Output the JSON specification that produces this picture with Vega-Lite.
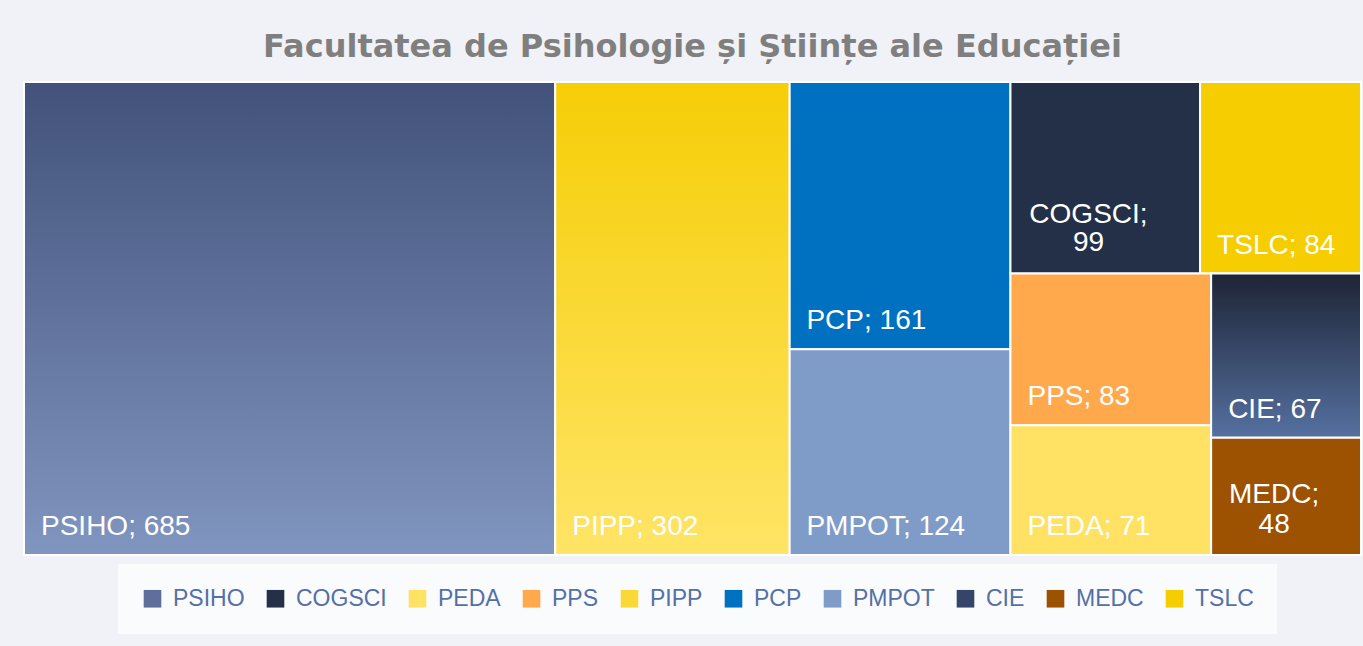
{
  "$schema": "https://vega.github.io/schema/vega-lite/v6.json",
  "width": 1337,
  "height": 473,
  "autosize": "none",
  "padding": {"left": 24, "top": 82, "right": 2, "bottom": 91},
  "background": "#f0f2f7",
  "config": {"view": {"stroke": null}},
  "title": {
    "text": "Facultatea de Psihologie și Științe ale Educației",
    "font": "DejaVu Sans",
    "fontSize": 32,
    "fontWeight": "bold",
    "color": "#7f7f7f",
    "anchor": "middle",
    "offset": 17
  },
  "data": {
    "values": [
      {"name": "PSIHO", "value": 685, "col": 1, "band": 1, "sub": 1, "i": 1},
      {"name": "PIPP", "value": 302, "col": 2, "band": 1, "sub": 1, "i": 2},
      {"name": "PCP", "value": 161, "col": 3, "band": 1, "sub": 1, "i": 3},
      {"name": "PMPOT", "value": 124, "col": 3, "band": 1, "sub": 1, "i": 4},
      {"name": "COGSCI", "value": 99, "col": 4, "band": 1, "sub": 1, "i": 5},
      {"name": "TSLC", "value": 84, "col": 4, "band": 1, "sub": 2, "i": 6},
      {"name": "PPS", "value": 83, "col": 4, "band": 2, "sub": 1, "i": 7},
      {"name": "PEDA", "value": 71, "col": 4, "band": 2, "sub": 1, "i": 8},
      {"name": "CIE", "value": 67, "col": 4, "band": 2, "sub": 2, "i": 9},
      {"name": "MEDC", "value": 48, "col": 4, "band": 2, "sub": 2, "i": 10}
    ]
  },
  "transform": [
    {"stack": "value", "groupby": [], "sort": [{"field": "i", "order": "ascending"}], "as": ["a0", "a1"]},
    {"joinaggregate": [
      {"op": "min", "field": "a0", "as": "cx0"},
      {"op": "max", "field": "a1", "as": "cx1"},
      {"op": "sum", "field": "value", "as": "colTot"}
    ], "groupby": ["col"]},
    {"stack": "value", "groupby": ["col"], "sort": [{"field": "i", "order": "ascending"}], "as": ["b0", "b1"]},
    {"joinaggregate": [
      {"op": "min", "field": "b0", "as": "bb0"},
      {"op": "max", "field": "b1", "as": "bb1"}
    ], "groupby": ["col", "band"]},
    {"stack": "value", "groupby": ["col", "band"], "sort": [{"field": "i", "order": "ascending"}], "as": ["s0", "s1"]},
    {"joinaggregate": [
      {"op": "min", "field": "s0", "as": "ss0"},
      {"op": "max", "field": "s1", "as": "ss1"}
    ], "groupby": ["col", "band", "sub"]},
    {"stack": "value", "groupby": ["col", "band", "sub"], "sort": [{"field": "i", "order": "ascending"}], "as": ["t0", "t1"]},
    {"calculate": "datum.bb0 / datum.colTot", "as": "by0"},
    {"calculate": "datum.bb1 / datum.colTot", "as": "by1"},
    {"calculate": "datum.cx0 + (datum.cx1 - datum.cx0) * datum.ss0 / (datum.bb1 - datum.bb0)", "as": "x0"},
    {"calculate": "datum.cx0 + (datum.cx1 - datum.cx0) * datum.ss1 / (datum.bb1 - datum.bb0)", "as": "x1"},
    {"calculate": "datum.by0 + (datum.by1 - datum.by0) * datum.t0 / (datum.ss1 - datum.ss0)", "as": "y0"},
    {"calculate": "datum.by0 + (datum.by1 - datum.by0) * datum.t1 / (datum.ss1 - datum.ss0)", "as": "y1"},
    {"calculate": "datum.name + '; ' + datum.value", "as": "lab"},
    {"calculate": "[datum.name + ';', '' + datum.value]", "as": "lab2"}
  ],
  "encoding": {
    "x": {"field": "x0", "type": "quantitative", "scale": {"domain": [0, 1724], "nice": false, "zero": false}, "axis": null},
    "y": {"field": "y0", "type": "quantitative", "scale": {"domain": [0, 1], "nice": false, "reverse": true}, "axis": null}
  },
  "layer": [
    {
      "mark": {"type": "rect", "stroke": "white", "strokeWidth": 2},
      "encoding": {
        "x2": {"field": "x1"},
        "y2": {"field": "y1"},
        "fill": {
          "field": "name",
          "type": "nominal",
          "scale": {
            "domain": ["PSIHO", "COGSCI", "PEDA", "PPS", "PIPP", "PCP", "PMPOT", "CIE", "MEDC", "TSLC"],
            "range": ["#5d6f9a", "#243048", "#ffe264", "#ffa84c", "#fad936", "#0070c0", "#7f9cc8", "#34446a", "#9c5200", "#f5cd00"]
          },
          "legend": {
            "title": null,
            "orient": "none",
            "legendX": 94,
            "legendY": 482,
            "direction": "horizontal",
            "columns": 10,
            "symbolType": "square",
            "symbolSize": 310,
            "symbolStrokeWidth": 0,
            "labelFont": "Liberation Sans",
            "labelFontSize": 23,
            "labelColor": "#5470a6",
            "labelOffset": 9,
            "columnPadding": 19,
            "fillColor": "#fafbfd",
            "padding": 23,
            "labelLimit": 300
          }
        }
      }
    },
    {
      "transform": [{"filter": "datum.name === 'PSIHO'"}],
      "mark": {"type": "rect", "stroke": "white", "strokeWidth": 2,
        "fill": {"gradient": "linear", "x1": 0, "y1": 0, "x2": 0, "y2": 1,
          "stops": [{"offset": 0, "color": "#42527a"}, {"offset": 1, "color": "#8095bf"}]}},
      "encoding": {"x2": {"field": "x1"}, "y2": {"field": "y1"}}
    },
    {
      "transform": [{"filter": "datum.name === 'PIPP'"}],
      "mark": {"type": "rect", "stroke": "white", "strokeWidth": 2,
        "fill": {"gradient": "linear", "x1": 0, "y1": 0, "x2": 0, "y2": 1,
          "stops": [{"offset": 0, "color": "#f5ce06"}, {"offset": 1, "color": "#ffe466"}]}},
      "encoding": {"x2": {"field": "x1"}, "y2": {"field": "y1"}}
    },
    {
      "transform": [{"filter": "datum.name === 'CIE'"}],
      "mark": {"type": "rect", "stroke": "white", "strokeWidth": 2,
        "fill": {"gradient": "linear", "x1": 0, "y1": 0, "x2": 0, "y2": 1,
          "stops": [{"offset": 0, "color": "#1d2435"}, {"offset": 1, "color": "#5570a0"}]}},
      "encoding": {"x2": {"field": "x1"}, "y2": {"field": "y1"}}
    },
    {
      "transform": [{"filter": "datum.name !== 'COGSCI' && datum.name !== 'MEDC'"}],
      "mark": {"type": "text", "align": "left", "baseline": "alphabetic", "dx": 17, "dy": -20, "font": "Liberation Sans", "fontSize": 28, "color": "white"},
      "encoding": {"y": {"field": "y1", "type": "quantitative"}, "text": {"field": "lab"}}
    },
    {
      "transform": [{"filter": "datum.name === 'COGSCI'"}],
      "mark": {"type": "text", "align": "center", "baseline": "bottom", "dx": 78, "dy": -45, "lineHeight": 28, "font": "Liberation Sans", "fontSize": 28, "color": "white"},
      "encoding": {"y": {"field": "y1", "type": "quantitative"}, "text": {"field": "lab2"}}
    },
    {
      "transform": [{"filter": "datum.name === 'MEDC'"}],
      "mark": {"type": "text", "align": "center", "baseline": "bottom", "dx": 63, "dy": -46, "lineHeight": 30, "font": "Liberation Sans", "fontSize": 28, "color": "white"},
      "encoding": {"y": {"field": "y1", "type": "quantitative"}, "text": {"field": "lab2"}}
    }
  ]
}
